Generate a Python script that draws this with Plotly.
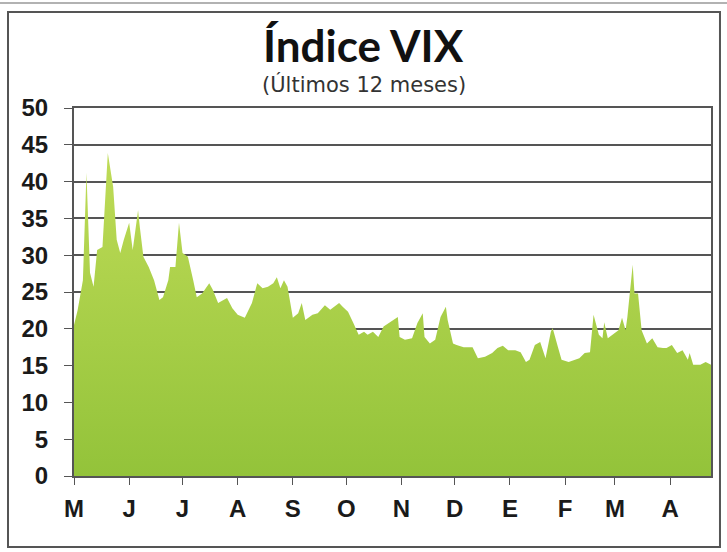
import plotly.graph_objects as go

# ---- data ----
dates = [
    "2010-05-01", "2010-05-03", "2010-05-06", "2010-05-08", "2010-05-10", "2010-05-12",
    "2010-05-14", "2010-05-17", "2010-05-20", "2010-05-23", "2010-05-25", "2010-05-27",
    "2010-05-29", "2010-06-01", "2010-06-03", "2010-06-06", "2010-06-07", "2010-06-09",
    "2010-06-12", "2010-06-15", "2010-06-18", "2010-06-20", "2010-06-23", "2010-06-24",
    "2010-06-27", "2010-06-29", "2010-07-01", "2010-07-04", "2010-07-07", "2010-07-09",
    "2010-07-12", "2010-07-16", "2010-07-18", "2010-07-21", "2010-07-26", "2010-07-29",
    "2010-08-01", "2010-08-05", "2010-08-09", "2010-08-12", "2010-08-15", "2010-08-18",
    "2010-08-21", "2010-08-23", "2010-08-25", "2010-08-27", "2010-08-29", "2010-09-01",
    "2010-09-04", "2010-09-06", "2010-09-08", "2010-09-12", "2010-09-15", "2010-09-19",
    "2010-09-22", "2010-09-27", "2010-09-29", "2010-10-02", "2010-10-05", "2010-10-08",
    "2010-10-11", "2010-10-13", "2010-10-16", "2010-10-19", "2010-10-22", "2010-10-26",
    "2010-10-30", "2010-10-31", "2010-11-03", "2010-11-07", "2010-11-10", "2010-11-13",
    "2010-11-14", "2010-11-17", "2010-11-20", "2010-11-23", "2010-11-26", "2010-11-27",
    "2010-11-30", "2010-12-02", "2010-12-06", "2010-12-11", "2010-12-14", "2010-12-18",
    "2010-12-22", "2010-12-25", "2010-12-28", "2010-12-31", "2011-01-04", "2011-01-07",
    "2011-01-10", "2011-01-12", "2011-01-15", "2011-01-18", "2011-01-21", "2011-01-24",
    "2011-01-25", "2011-01-28", "2011-01-30", "2011-02-03", "2011-02-07", "2011-02-09",
    "2011-02-12", "2011-02-15", "2011-02-17", "2011-02-20", "2011-02-22", "2011-02-23",
    "2011-02-25", "2011-02-28", "2011-03-03", "2011-03-05", "2011-03-07", "2011-03-08",
    "2011-03-11", "2011-03-12", "2011-03-14", "2011-03-16", "2011-03-19", "2011-03-22",
    "2011-03-25", "2011-03-28", "2011-03-30", "2011-04-02", "2011-04-05", "2011-04-08",
    "2011-04-11", "2011-04-12", "2011-04-14", "2011-04-18", "2011-04-21", "2011-04-24",
]
vix = [
    20.5, 22.5, 26.6, 41.2, 27.6, 25.7,
    30.7, 31.1, 43.9, 39.3, 32.1, 30.3,
    32.1, 34.4, 30.7, 36.1, 33.8, 29.8,
    28.4, 26.6, 23.9, 24.3, 26.6, 28.4,
    28.4, 34.4, 30.3, 29.8, 26.6, 24.3,
    24.8, 26.2, 25.3, 23.5, 24.2, 22.8,
    21.9, 21.5, 23.5, 26.2, 25.5, 25.7,
    26.2, 27.0, 25.5, 26.6, 25.7, 21.5,
    22.1, 23.5, 21.2, 21.9, 22.1, 23.2,
    22.6, 23.5, 23.0, 22.3, 20.8, 19.2,
    19.6, 19.2, 19.6, 18.9, 20.3, 20.9,
    21.6, 18.9, 18.5, 18.7, 20.8, 22.1,
    18.9, 18.0, 18.5, 21.6, 23.0, 21.2,
    18.0, 17.8, 17.5, 17.5, 16.0, 16.2,
    16.7, 17.4, 17.7, 17.1, 17.1, 16.8,
    15.5, 15.8, 17.8, 18.2, 16.0, 19.6,
    20.1, 17.5, 15.8, 15.5, 15.8, 16.0,
    16.7, 16.8, 21.9, 19.2, 18.7, 20.9,
    18.7, 19.2, 19.8, 21.5, 19.8, 21.6,
    28.7, 24.8, 24.8, 19.8, 18.0, 18.7,
    17.5, 17.4, 17.4, 17.8, 16.7, 17.1,
    15.8, 16.7, 15.1, 15.1, 15.5, 15.1,
]
month_starts = [
    "2010-05-01", "2010-06-01", "2010-07-01", "2010-08-01", "2010-09-01", "2010-10-01",
    "2010-11-01", "2010-12-01", "2011-01-01", "2011-02-01", "2011-03-01", "2011-04-01",
]
month_labels = ["M", "J", "J", "A", "S", "O", "N", "D", "E", "F", "M", "A"]
y_ticks = [0, 5, 10, 15, 20, 25, 30, 35, 40, 45, 50]

title_text = "Índice VIX"
subtitle_text = "(Últimos 12 meses)"

# ---- figure ----
fig = go.Figure()
fig.add_trace(go.Scatter(
    x=dates, y=vix, mode="lines", fill="tozeroy",
    line=dict(width=0, color="#9ec83c"),
    fillcolor="#9ec83c",
    fillgradient=dict(type="vertical",
                      colorscale=[[0, "#93c33a"], [1, "#c0dc58"]],
                      start=0, stop=45),
    hoverinfo="x+y", showlegend=False,
))

tick_font = dict(family="Liberation Sans", size=24, color="#1a1a1a", weight="bold")

fig.update_layout(
    width=727, height=552,
    margin=dict(l=74, r=16, t=108, b=76),
    paper_bgcolor="white", plot_bgcolor="white",
    xaxis=dict(
        type="date", range=["2010-05-01", "2011-04-24"],
        tickvals=month_starts, ticktext=month_labels,
        ticks="outside", ticklen=7, tickwidth=1, tickcolor="#555",
        showgrid=False, showline=True, linecolor="#555", linewidth=2, mirror=True,
        tickfont=tick_font, ticklabelstandoff=3,
    ),
    yaxis=dict(
        range=[0, 50], tickvals=y_ticks,
        ticks="outside", ticklen=8, tickwidth=1, tickcolor="#555",
        showgrid=True, gridcolor="#555", gridwidth=2,
        showline=True, linecolor="#555", linewidth=2, mirror=True,
        zeroline=False,
        tickfont=tick_font, ticklabelstandoff=11,
    ),
    annotations=[
        dict(text=title_text, xref="paper", yref="paper", x=0.455, y=1.171,
             xanchor="center", yanchor="middle", showarrow=False,
             font=dict(family="Lato", size=44, color="#111", weight="bold")),
        dict(text=subtitle_text, xref="paper", yref="paper", x=0.455, y=1.063,
             xanchor="center", yanchor="middle", showarrow=False,
             font=dict(family="DejaVu Sans", size=21, color="#333")),
    ],
    shapes=[
        dict(type="rect", xref="paper", yref="paper",
             x0=-0.1036, x1=1.0141, y0=-0.1930, y1=1.2609,
             line=dict(color="#555", width=2), layer="below"),
        dict(type="line", xref="paper", yref="paper",
             x0=-0.12, x1=1.03, y0=1.285, y1=1.285,
             line=dict(color="#999", width=1.5)),
    ],
)

fig.write_html("out.html", config={"displayModeBar": False},
               post_script="document.body.style.margin='0';")
